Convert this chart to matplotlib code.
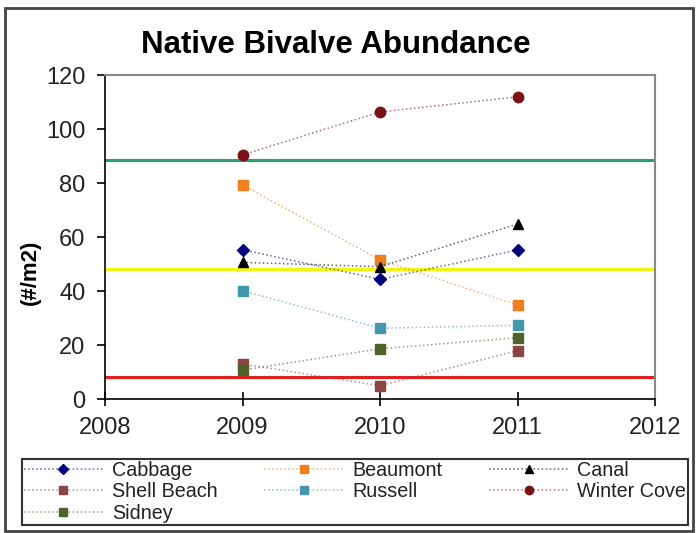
import matplotlib
matplotlib.use('Agg')
import matplotlib.pyplot as plt
from matplotlib.patches import Rectangle

plt.rcParams['font.family'] = ['Liberation Sans', 'DejaVu Sans']

# Data
years = [2009, 2010, 2011]
cabbage = [55.3, 44.3, 55.2]
beaumont = [79.3, 51.5, 34.8]
canal = [50.6, 49.0, 64.8]
shell_beach = [13.0, 4.9, 17.9]
russell = [40.1, 26.2, 27.3]
winter_cove = [90.4, 106.3, 111.9]
sidney = [10.7, 18.6, 22.7]

green_level = 88.5
yellow_level = 48
red_level = 8

x_ticks = [2008, 2009, 2010, 2011, 2012]
y_ticks = [0, 20, 40, 60, 80, 100, 120]

series = [
    ('Cabbage', cabbage, 'D', '#000080', 6),
    ('Beaumont', beaumont, 's', '#EE7F1C', 7),
    ('Canal', canal, '^', '#000000', 7.5),
    ('Shell Beach', shell_beach, 's', '#8A4545', 7),
    ('Russell', russell, 's', '#4597B0', 7),
    ('Winter Cove', winter_cove, 'o', '#7A1414', 7.5),
    ('Sidney', sidney, 's', '#4F6228', 7),
]

fig = plt.figure(figsize=(6.96, 5.33), dpi=100)
ax = fig.add_axes([105 / 696, 1 - 399 / 533, 550 / 696, 324 / 533])

# outer chart frame
fig.patches.append(Rectangle((5 / 696, 2 / 533), 688 / 696, 523 / 533,
                             transform=fig.transFigure, fill=False,
                             edgecolor='#444444', linewidth=2))

ax.axhline(green_level, color='#25A36A', linewidth=2.2, zorder=1)
ax.axhline(yellow_level, color='#F4F411', linewidth=2.2, zorder=1)
ax.axhline(red_level, color='#E0201E', linewidth=2.2, zorder=1)

handles = {}
for name, vals, mk, col, ms in series:
    ln, = ax.plot(years, vals, linestyle=':', linewidth=1.1, color=col + '99',
                  marker=mk, markersize=ms,
                  markerfacecolor=col, markeredgecolor=col, label=name, zorder=3)
    handles[name] = ln

ax.set_xlim(2008, 2012)
ax.set_ylim(0, 120)
ax.set_xticks(x_ticks)
ax.set_yticks(y_ticks)
ax.set_xticklabels([str(t) for t in x_ticks])
ax.tick_params(axis='x', direction='inout', length=10, width=1.2, labelsize=17,
               pad=8, labelcolor='#222222')
ax.tick_params(axis='y', direction='out', length=6, width=1.2, labelsize=17,
               pad=8, labelcolor='#222222')

for s in ['left', 'bottom']:
    ax.spines[s].set_color('black')
    ax.spines[s].set_linewidth(1.2)
for s in ['top', 'right']:
    ax.spines[s].set_color('#888888')
    ax.spines[s].set_linewidth(1.5)

fig.text(336 / 696, 1 - 45 / 533, 'Native Bivalve Abundance', ha='center',
         va='center', fontsize=22.5, fontweight='bold')
fig.text(30 / 696, 1 - 272 / 533, '(#/m2)', rotation=90, ha='center',
         va='center', fontsize=16, fontweight='bold')

order = ['Cabbage', 'Shell Beach', 'Sidney', 'Beaumont', 'Russell', 'Canal', 'Winter Cove']
leg = fig.legend([handles[n] for n in order], order, ncol=3,
                 loc='upper left', mode='expand',
                 bbox_to_anchor=(22 / 696, 1 - 520 / 533, 666 / 696, 61 / 533),
                 fontsize=14.2, handlelength=4.0, handletextpad=0.45,
                 labelspacing=0.12, borderpad=0.1, columnspacing=1.0,
                 markerscale=0.8, labelcolor='#222222',
                 frameon=True, fancybox=False, borderaxespad=0)
leg.get_frame().set_edgecolor('black')
leg.get_frame().set_linewidth(1.5)

fig.savefig('out.png', dpi=100)
